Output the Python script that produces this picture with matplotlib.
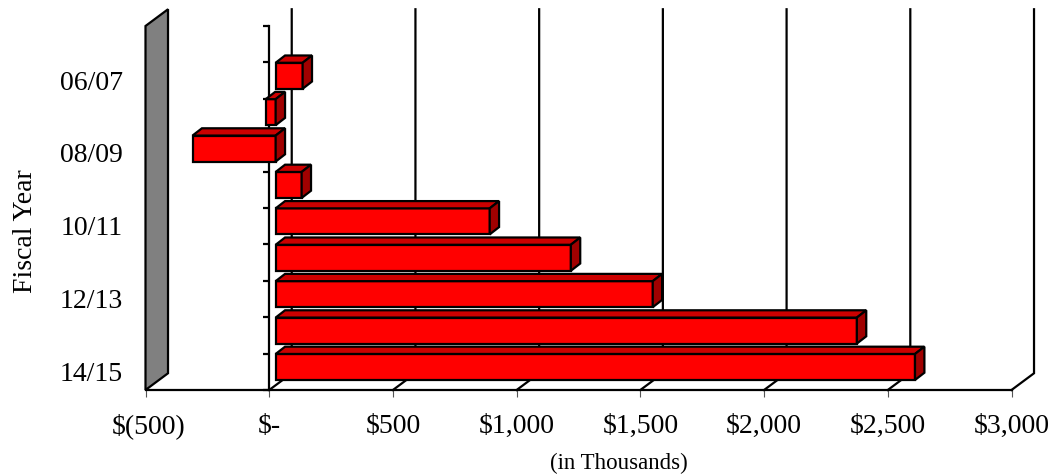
import matplotlib
matplotlib.use("Agg")
import matplotlib.pyplot as plt
from matplotlib.transforms import ScaledTranslation

# Werte
fiscal_years = ["06/07", "07/08", "08/09", "09/10", "10/11", "11/12", "12/13", "13/14", "14/15"]
amounts = [109, -40, -336, 105, 865, 1193, 1524, 2349, 2584]
shown_years = ["06/07", "08/09", "10/11", "12/13", "14/15"]
x_ticks = [-500, 0, 500, 1000, 1500, 2000, 2500, 3000]
x_labels = ["$(500)", "$-", "$500", "$1,000", "$1,500", "$2,000", "$2,500", "$3,000"]

# Tiefe der 3D-Darstellung in Achseneinheiten
WALL_DX = 91
WALL_DY = 0.46
BAR_DX = 38
BAR_DY = 0.2
BAR_SHIFT = 26
BAR_HEIGHT = 0.715
BAR_BOTTOM = 0.275
LW = 1.6

plt.rcParams["font.family"] = ["Liberation Serif", "DejaVu Serif"]

fig = plt.figure(figsize=(10.55, 4.77), dpi=100)
ax = fig.add_axes([145.5 / 1055, (477 - 391) / 477, 866 / 1055, 364 / 477])
ax.set_xlim(-500, 3000)
ax.set_ylim(0, 10)

# graue Rückwand links
ax.fill([-500, -500 + WALL_DX, -500 + WALL_DX, -500],
        [0, WALL_DY, 10 + WALL_DY, 10],
        facecolor="#808080", edgecolor="black", lw=LW, clip_on=False, zorder=1)

# Gitterlinien hinten und Bodenlinien
for t in x_ticks[1:]:
    ax.plot([t, t + WALL_DX, t + WALL_DX], [0, WALL_DY, 10 + WALL_DY],
            color="black", lw=LW, clip_on=False, zorder=1, solid_joinstyle="miter")

# Balken von hinten nach vorne zeichnen
n = len(amounts)
for i in range(n):
    val = amounts[i]
    slot = n - 1 - i
    y0 = slot + BAR_BOTTOM
    y1 = y0 + BAR_HEIGHT
    x0 = min(val, 0) + BAR_SHIFT
    x1 = max(val, 0) + BAR_SHIFT
    z = 3 + i
    ax.barh(y0, x1 - x0, height=BAR_HEIGHT, left=x0, align="edge",
            color="#ff0000", edgecolor="black", lw=LW, zorder=z, clip_on=False)
    ax.fill([x0, x0 + BAR_DX, x1 + BAR_DX, x1], [y1, y1 + BAR_DY, y1 + BAR_DY, y1],
            facecolor="#cc0000", edgecolor="black", lw=LW, zorder=z, clip_on=False)
    ax.fill([x1, x1 + BAR_DX, x1 + BAR_DX, x1], [y0, y0 + BAR_DY, y1 + BAR_DY, y1],
            facecolor="#a00000", edgecolor="black", lw=LW, zorder=z, clip_on=False)

for s in ["top", "right"]:
    ax.spines[s].set_visible(False)
ax.spines["left"].set_position(("data", 0))
ax.spines["left"].set_linewidth(LW)
ax.spines["bottom"].set_linewidth(LW)
ax.spines["left"].set_zorder(2)

ax.set_yticks(range(0, 11))
ax.set_yticklabels([])
ax.tick_params(axis="y", direction="out", length=4.5, width=LW)
ax.set_xticks(x_ticks)
ax.set_xticklabels(x_labels, fontsize=20, va="baseline")
ax.tick_params(axis="x", direction="out", length=5, width=0.8, color="#555555", pad=25.5)
# $(500) sitzt im Original etwas weiter rechts
first = ax.get_xticklabels()[0]
first.set_transform(first.get_transform() + ScaledTranslation(0.03, 0, fig.dpi_scale_trans))

for year in shown_years:
    slot = n - 1 - fiscal_years.index(year)
    ax.text(-592, slot + 0.46, year, ha="right", va="center", fontsize=20)

ax.set_xlabel("(in Thousands)", fontsize=16.5, va="center")
ax.xaxis.set_label_coords(0.547, -0.2)
ax.set_ylabel("Fiscal Year", fontsize=20, va="center")
ax.yaxis.set_label_coords(-0.139, 0.44)

fig.savefig("out.png", dpi=100)
